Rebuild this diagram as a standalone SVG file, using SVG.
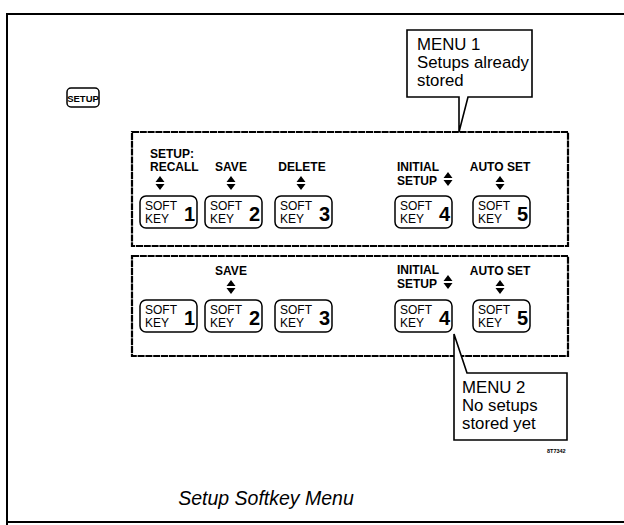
<svg xmlns="http://www.w3.org/2000/svg" width="624" height="525" viewBox="0 0 624 525">
<style>
.frame{fill:none;stroke:#000;stroke-width:2}
.menu{fill:none;stroke:#000;stroke-width:2.2;stroke-dasharray:7 0.8}
.key{fill:#fff;stroke:#000;stroke-width:1.5}
.lbl{font-family:"Liberation Sans",Arial,sans-serif;font-weight:bold;font-size:12px;fill:#000}
.sk{font-family:"Liberation Sans",Arial,sans-serif;font-size:12px;fill:#000}
.num{font-family:"Liberation Sans",Arial,sans-serif;font-weight:bold;font-size:20px;fill:#000}
.call{font-family:"Liberation Sans",Arial,sans-serif;font-size:16.8px;fill:#000}
.cap{font-family:"Liberation Sans",Arial,sans-serif;font-style:italic;font-size:19.5px;fill:#000}
.co{fill:#fff;stroke:#000;stroke-width:1.6}
</style>
<defs>
<path id="ud" d="M0,-7 L4.5,-1 L-4.5,-1 Z M0,7 L4.5,1 L-4.5,1 Z" fill="#000"/>
<g id="k">
<rect class="key" x="0" y="0" width="57" height="32" rx="6"/>
<text class="sk" x="5" y="14">SOFT</text>
<text class="sk" x="5" y="27">KEY</text>
</g>
</defs>
<path class="frame" d="M7,525 V14 H624 M7,522 H624"/>
<g id="setup-key">
<rect x="67" y="88" width="32" height="19" rx="4" fill="#fff" stroke="#000" stroke-width="1.5"/>
<text x="83" y="101.5" text-anchor="middle" style="font-family:'Liberation Sans',Arial,sans-serif;font-weight:bold;font-size:9.5px">SETUP</text>
</g>
<g id="menu1">
<rect class="menu" x="132" y="132" width="436" height="114"/>
<text class="lbl" x="150" y="158">SETUP:</text>
<text class="lbl" x="150" y="171">RECALL</text>
<text class="lbl" x="231" y="171" text-anchor="middle">SAVE</text>
<text class="lbl" x="302" y="171" text-anchor="middle">DELETE</text>
<text class="lbl" x="397" y="171">INITIAL</text>
<text class="lbl" x="397" y="185">SETUP</text>
<text class="lbl" x="500" y="171" text-anchor="middle">AUTO SET</text>
<use href="#ud" x="160" y="183"/>
<use href="#ud" x="231" y="183"/>
<use href="#ud" x="301" y="183"/>
<use href="#ud" x="448" y="179"/>
<use href="#ud" x="500" y="183"/>
<g id="m1k1"><use href="#k" x="140" y="196"/><text class="num" x="184" y="221">1</text></g>
<g id="m1k2"><use href="#k" x="205" y="196"/><text class="num" x="249" y="221">2</text></g>
<g id="m1k3"><use href="#k" x="275" y="196"/><text class="num" x="319" y="221">3</text></g>
<g id="m1k4"><use href="#k" x="395" y="196"/><text class="num" x="439" y="221">4</text></g>
<g id="m1k5"><use href="#k" x="473" y="196"/><text class="num" x="517" y="221">5</text></g>
</g>
<g id="menu2">
<rect class="menu" x="132" y="256" width="436" height="100"/>
<text class="lbl" x="231" y="275" text-anchor="middle">SAVE</text>
<text class="lbl" x="397" y="274">INITIAL</text>
<text class="lbl" x="397" y="288">SETUP</text>
<text class="lbl" x="500" y="275" text-anchor="middle">AUTO SET</text>
<use href="#ud" x="231" y="287"/>
<use href="#ud" x="448" y="282"/>
<use href="#ud" x="500" y="287"/>
<g id="m2k1"><use href="#k" x="140" y="300"/><text class="num" x="184" y="325">1</text></g>
<g id="m2k2"><use href="#k" x="205" y="300"/><text class="num" x="249" y="325">2</text></g>
<g id="m2k3"><use href="#k" x="275" y="300"/><text class="num" x="319" y="325">3</text></g>
<g id="m2k4"><use href="#k" x="395" y="300"/><text class="num" x="439" y="325">4</text></g>
<g id="m2k5"><use href="#k" x="473" y="300"/><text class="num" x="517" y="325">5</text></g>
</g>
<g id="callout1">
<path class="co" d="M459,132 L468,97 H532 V30 H407 V97 H459 Z"/>
<text class="call" x="417" y="50">MENU 1</text>
<text class="call" x="417" y="68">Setups already</text>
<text class="call" x="417" y="86">stored</text>
</g>
<g id="callout2">
<path class="co" d="M454,334 L467,373 H567 V440 H454 Z"/>
<text class="call" x="462" y="393">MENU 2</text>
<text class="call" x="462" y="411">No setups</text>
<text class="call" x="462" y="429">stored yet</text>
</g>
<text x="547" y="453" font-family="Liberation Sans,Arial,sans-serif" font-weight="bold" font-size="5.5">8T7342</text>
<text class="cap" x="266" y="505" text-anchor="middle">Setup Softkey Menu</text>
</svg>
